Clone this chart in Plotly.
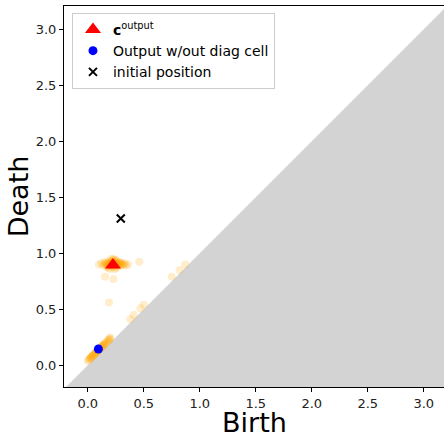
import plotly.graph_objects as go

# axis limits
x_range = [-0.212, 3.181]
y_range = [-0.194, 3.208]
tick_vals = [0.0, 0.5, 1.0, 1.5, 2.0, 2.5, 3.0]
tick_text = ["0.0", "0.5", "1.0", "1.5", "2.0", "2.5", "3.0"]
x_label = "Birth"
y_label = "Death"

# orange trajectory points (faint)
cluster_x = [0.10, 0.12, 0.14, 0.15, 0.16, 0.17, 0.18, 0.19, 0.20, 0.21, 0.22, 0.23, 0.24, 0.25, 0.26,
             0.27, 0.28, 0.29, 0.30, 0.32, 0.34, 0.36, 0.18, 0.20, 0.22, 0.24, 0.26, 0.21, 0.23, 0.25,
             0.19, 0.21, 0.23, 0.25, 0.27, 0.20, 0.22, 0.24, 0.17, 0.19, 0.21, 0.22, 0.23, 0.24,
             0.26, 0.28, 0.30, 0.16, 0.18, 0.20, 0.22, 0.25, 0.27, 0.29, 0.31, 0.33]
cluster_y = [0.90, 0.91, 0.89, 0.92, 0.90, 0.88, 0.91, 0.93, 0.89, 0.92, 0.90, 0.94, 0.88, 0.91, 0.93,
             0.89, 0.90, 0.92, 0.91, 0.90, 0.89, 0.90, 0.87, 0.86, 0.88, 0.86, 0.87, 0.95, 0.95, 0.94,
             0.90, 0.91, 0.90, 0.90, 0.91, 0.92, 0.89, 0.92, 0.91, 0.90, 0.89, 0.91, 0.92, 0.90,
             0.89, 0.91, 0.89, 0.91, 0.89, 0.90, 0.93, 0.92, 0.90, 0.91, 0.90, 0.91]
scatter_x = [0.46, 0.155, 0.23, 0.19, 0.87, 0.82, 0.75, 0.50, 0.47, 0.41, 0.38, 0.20, 0.19]
scatter_y = [0.925, 0.79, 0.77, 0.56, 0.90, 0.85, 0.79, 0.54, 0.51, 0.45, 0.41, 0.245, 0.225]
diag_x = [0.00, 0.01, 0.02, 0.03, 0.04, 0.05, 0.06, 0.07, 0.08, 0.09, 0.10, 0.11, 0.12, 0.13, 0.14,
          0.15, 0.16, 0.17, 0.18, 0.19, 0.20, 0.02, 0.04, 0.05, 0.07, 0.08, 0.10, 0.12, 0.13, 0.15,
          0.03, 0.06, 0.09, 0.11, 0.14]
diag_y = [0.04, 0.05, 0.06, 0.07, 0.08, 0.09, 0.10, 0.11, 0.12, 0.13, 0.14, 0.15, 0.16, 0.17, 0.18,
          0.19, 0.20, 0.21, 0.22, 0.23, 0.24, 0.06, 0.08, 0.09, 0.11, 0.12, 0.14, 0.16, 0.17, 0.19,
          0.07, 0.10, 0.13, 0.15, 0.18]

# highlighted points
c_output = (0.225, 0.895)
blue_point = (0.095, 0.145)
initial_pos = (0.295, 1.31)

fig = go.Figure()

# diagonal gray region
lo, hi = -1.0, 4.0
fig.add_trace(go.Scatter(x=[lo, hi, hi, lo], y=[lo, hi, lo, lo], fill="toself",
                         fillcolor="#d3d3d3", line=dict(width=0), mode="lines",
                         showlegend=False, hoverinfo="skip"))

orange_x = cluster_x + scatter_x + diag_x
orange_y = cluster_y + scatter_y + diag_y
fig.add_trace(go.Scatter(x=orange_x, y=orange_y, mode="markers",
                         marker=dict(color="orange", size=8, opacity=0.2, line=dict(width=0)),
                         showlegend=False))

fig.add_trace(go.Scatter(x=[c_output[0]], y=[c_output[1]], mode="markers",
                         name="<b>c</b><sup>output</sup>",
                         marker=dict(symbol="triangle-up", color="red", size=14, line=dict(width=0))))
fig.add_trace(go.Scatter(x=[blue_point[0]], y=[blue_point[1]], mode="markers",
                         name="Output w/out diag cell",
                         marker=dict(symbol="circle", color="blue", size=9, line=dict(width=0))))
fig.add_trace(go.Scatter(x=[initial_pos[0]], y=[initial_pos[1]], mode="markers",
                         name="initial position",
                         marker=dict(symbol="x-thin", color="black", size=8,
                                     line=dict(width=2, color="black"))))

axis_common = dict(showgrid=False, zeroline=False, showline=True, linecolor="black", linewidth=1,
                   mirror=True, ticks="outside", ticklen=4, tickcolor="black",
                   tickvals=tick_vals, ticktext=tick_text, automargin=False,
                   tickfont=dict(family="DejaVu Sans", size=13, color="#222"))

label_font = dict(family="DejaVu Sans", size=27, color="black")

fig.update_layout(
    width=444, height=434,
    margin=dict(l=64, r=0, t=6, b=47, autoexpand=False),
    plot_bgcolor="white", paper_bgcolor="white",
    xaxis=dict(range=x_range, **axis_common),
    yaxis=dict(range=y_range, **axis_common),
    legend=dict(x=0.021, y=0.982, xanchor="left", yanchor="top",
                bgcolor="rgba(255,255,255,0.8)", bordercolor="#cccccc", borderwidth=1,
                font=dict(family="DejaVu Sans", size=14, color="black"),
                tracegroupgap=0, itemwidth=30),
    font=dict(family="DejaVu Sans"),
    annotations=[
        dict(text=x_label, xref="paper", yref="paper", x=0.5, y=-0.093,
             xanchor="center", yanchor="middle", showarrow=False, font=label_font),
        dict(text=y_label, xref="paper", yref="paper", x=-0.119, y=0.5, textangle=-90,
             xanchor="center", yanchor="middle", showarrow=False, font=label_font),
    ],
)

fig.write_html("out.html")
